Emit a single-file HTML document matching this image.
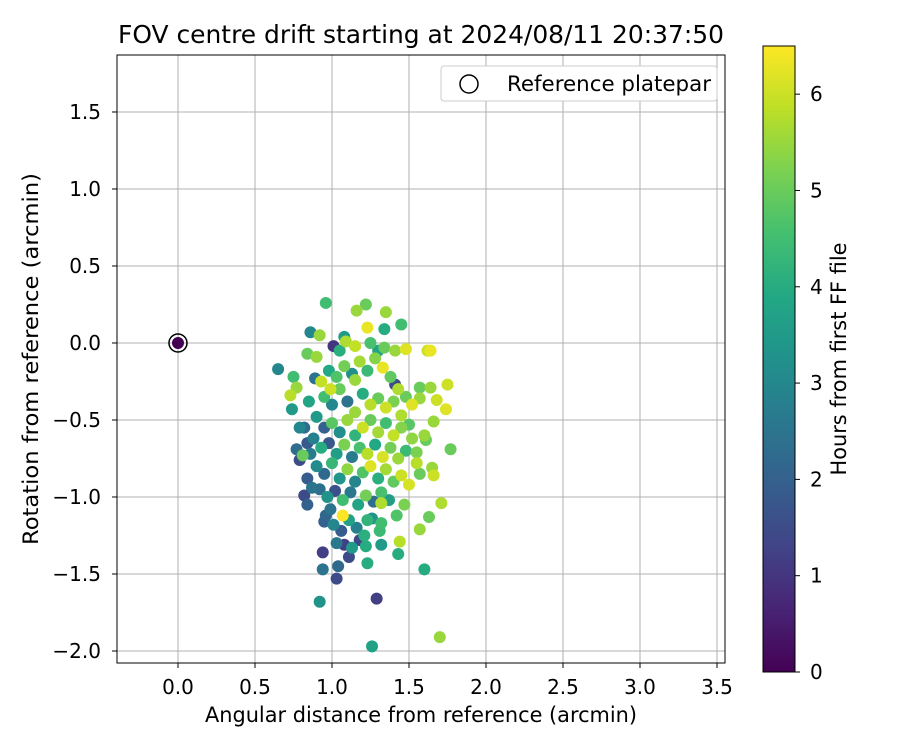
<!DOCTYPE html>
<html><head><meta charset="utf-8"><style>
body{margin:0;background:#fff;font-family:"Liberation Sans","DejaVu Sans",sans-serif;}
svg text{font-family:"DejaVu Sans","Liberation Sans",sans-serif;}
</style></head><body>
<svg id="chart" width="900" height="750" xmlns="http://www.w3.org/2000/svg">
<defs>
<linearGradient id="vir" x1="0" y1="1" x2="0" y2="0">
<stop offset="0" stop-color="#440154"/><stop offset="0.1" stop-color="#482475"/><stop offset="0.2" stop-color="#414487"/><stop offset="0.3" stop-color="#355f8d"/><stop offset="0.4" stop-color="#2a788e"/><stop offset="0.5" stop-color="#21918c"/><stop offset="0.6" stop-color="#22a884"/><stop offset="0.7" stop-color="#44bf70"/><stop offset="0.8" stop-color="#7ad151"/><stop offset="0.9" stop-color="#bddf26"/><stop offset="1" stop-color="#fde725"/>
</linearGradient>
<clipPath id="clip"><rect x="117" y="55" width="608" height="608"/></clipPath>
</defs>
<text x="421" y="43" font-size="25" text-anchor="middle" textLength="606" lengthAdjust="spacingAndGlyphs">FOV centre drift starting at 2024/08/11 20:37:50</text>
<g id="grid"></g>
<g id="points" clip-path="url(#clip)"></g>
<rect x="117" y="55" width="608" height="608" fill="none" stroke="#000" stroke-width="1"/>
<g id="ticks"></g>
<text x="421" y="722" font-size="21" text-anchor="middle" textLength="432" lengthAdjust="spacingAndGlyphs">Angular distance from reference (arcmin)</text>
<text transform="translate(38,359) rotate(-90)" font-size="21" text-anchor="middle" textLength="372" lengthAdjust="spacingAndGlyphs">Rotation from reference (arcmin)</text>
<g>
<rect x="441" y="66" width="276" height="35" rx="3" fill="#fff" stroke="#ccc"/>
<circle cx="469" cy="84" r="9" fill="none" stroke="#000" stroke-width="1.5"/>
<text x="507" y="91" font-size="21" textLength="204" lengthAdjust="spacingAndGlyphs">Reference platepar</text>
</g>
<rect x="763" y="46" width="32" height="626" fill="url(#vir)" stroke="#000"/>
<g id="cbticks"></g>
<text transform="translate(846,359) rotate(-90)" font-size="21" text-anchor="middle" textLength="233" lengthAdjust="spacingAndGlyphs">Hours from first FF file</text>
</svg>
<script>
const xTicks=[0,0.5,1,1.5,2,2.5,3,3.5];
const yTicks=[1.5,1,0.5,0,-0.5,-1,-1.5,-2];
const cTicks=[0,1,2,3,4,5,6];
const refPoint=[0,0,0];
const xs=[0.65,0.96,1.22,1.16,1.35,1.45,1.23,0.86,0.92,1.08,1.34,1.01,1.09,0.84,0.90,1.48,1.41,1.34,1.62,1.64,0.75,0.77,0.73,0.74,0.79,0.77,0.89,0.99,1.15,1.41,1.57,1.64,1.68,1.75,1.74,1.57,1.66,1.60,1.61,1.77,1.55,1.65,1.66,1.57,1.63,1.71,1.57,1.60,1.44,1.43,1.32,1.32,1.32,1.23,1.22,1.23,1.29,1.26,1.70,0.92,0.94,0.94,1.03,1.04,1.11,1.08,0.84,0.82,0.87,0.95,0.99,0.79,0.84,0.81,
0.95,1.00,1.05,1.10,1.15,1.20,1.25,1.30,1.35,1.40,1.45,0.90,0.95,1.00,1.05,1.10,1.15,1.20,1.25,1.30,1.35,1.40,1.45,1.50,0.88,0.93,0.98,1.03,1.08,1.13,1.18,1.23,1.28,1.33,1.38,1.43,1.48,0.90,0.95,1.00,1.05,1.10,1.15,1.20,1.25,1.30,1.35,1.40,1.45,0.92,0.97,1.02,1.07,1.12,1.17,1.22,1.27,1.32,1.37,0.96,1.01,1.06,1.11,1.16,1.21,1.26,1.31,1.03,1.13,1.18,0.93,0.98,1.03,1.08,1.13,1.18,1.23,1.28,1.33,1.38,1.43,1.48,1.05,1.15,1.25,1.30,0.85,0.82,0.86,0.84,1.52,1.55,1.50,1.47,1.42,1.52,1.07];
const ys=[-0.17,0.26,0.25,0.21,0.20,0.12,0.10,0.07,0.05,0.04,0.09,-0.02,0.01,-0.07,-0.09,-0.04,-0.05,-0.03,-0.05,-0.05,-0.22,-0.29,-0.34,-0.43,-0.55,-0.69,-0.23,-0.30,-0.24,-0.27,-0.29,-0.29,-0.37,-0.27,-0.43,-0.36,-0.51,-0.60,-0.63,-0.69,-0.71,-0.81,-0.86,-0.85,-1.13,-1.04,-1.21,-1.47,-1.29,-1.37,-1.31,-1.17,-1.04,-1.15,-1.32,-1.43,-1.66,-1.97,-1.91,-1.68,-1.47,-1.36,-1.53,-1.45,-1.39,-1.31,-1.05,-0.99,-0.94,-1.16,-1.08,-0.76,-0.65,-0.73,
-0.35,-0.40,-0.30,-0.38,-0.45,-0.33,-0.40,-0.36,-0.42,-0.38,-0.47,-0.48,-0.55,-0.52,-0.58,-0.50,-0.60,-0.55,-0.50,-0.58,-0.52,-0.60,-0.55,-0.53,-0.62,-0.68,-0.65,-0.72,-0.66,-0.74,-0.68,-0.72,-0.66,-0.74,-0.68,-0.75,-0.70,-0.80,-0.85,-0.78,-0.88,-0.82,-0.90,-0.84,-0.80,-0.88,-0.82,-0.90,-0.86,-0.95,-1.00,-0.96,-1.02,-0.97,-1.05,-0.99,-1.03,-0.97,-1.02,-1.12,-1.18,-1.22,-1.15,-1.20,-1.25,-1.14,-1.22,-1.30,-1.33,-1.28,-0.25,-0.18,-0.22,-0.15,-0.20,-0.12,-0.18,-0.10,-0.16,-0.22,-0.30,-0.35,-0.05,-0.02,0.00,-0.05,-0.38,-0.55,-0.72,-0.88,-0.62,-0.78,-0.92,-1.05,-1.12,-0.40,-1.12];
const hours=[3,4.5,5,5.5,5.5,4.5,6.3,3,5.5,3.5,4,1,5.7,5,5.5,6.2,5.5,5,6,6.3,4.5,5.5,5.8,3.5,3,2.3,2.5,6,5.5,1.5,5,5.5,6,6,6.2,5.5,5.5,5.5,5,5,5.2,5.5,6,5,5,5.7,5.5,4,5.8,4,3.5,4.5,5.7,4.2,4,4,1.2,3.7,5.5,3.3,2.5,1.2,1.5,2.2,1.5,1.2,2,1.5,2.5,2,2.5,1.5,1.8,5,
4.5,3,5,2.5,5.5,4,5.8,5,6,5.2,5.7,3.5,2,4.8,3.2,5.5,4.2,6,5,5.6,4.5,5.9,5.3,4.8,2.8,4,1.8,3.6,5.2,2.7,4.6,5.8,3.9,6.1,5.1,5.5,4.4,3.1,2.2,4.3,3.4,5.4,2.9,4.7,6.2,4.1,5.6,4.9,6,2.4,3.3,1.6,4.5,2.6,3.8,5.1,2.3,4.6,3.6,2.1,3,1.9,3.7,2.8,4.1,3.3,4.4,2.6,3.5,1.4,5.9,3.9,4.7,5.1,3.2,5.6,4.4,5.3,6.3,4.9,5.7,5,4.1,5.9,4.6,3.8,3.8,2.3,2.7,1.9,5.4,5.8,6.1,5.2,4.7,6.2,6.5];

const NS='http://www.w3.org/2000/svg';
const X0=-0.396,X1=3.552,Y0=-2.078,Y1=1.870,L=117,T=55,W=608,H=608;
function sx(v){return L+(v-X0)/(X1-X0)*W;}
function sy(v){return T+(Y1-v)/(Y1-Y0)*H;}
const VMAX=6.5;
function cy(v){return 672-v/VMAX*626;}
const vir=[[68,1,84],[72,36,117],[65,68,135],[53,95,141],[42,120,142],[33,145,140],[34,168,132],[68,191,112],[122,209,81],[189,223,38],[253,231,37]];
function color(h){let t=Math.max(0,Math.min(1,h/VMAX))*10;let i=Math.min(9,Math.floor(t));let f=t-i;const a=vir[i],b=vir[i+1];return 'rgb('+a.map((c,k)=>Math.round(c+(b[k]-c)*f)).join(',')+')';}
function mk(tag,attrs,parent){const e=document.createElementNS(NS,tag);for(const k in attrs)e.setAttribute(k,attrs[k]);parent.appendChild(e);return e;}
const grid=document.getElementById('grid'),ticks=document.getElementById('ticks');
xTicks.forEach(v=>{const x=sx(v);
 const g=mk('line',{x1:x,x2:x,y1:T,y2:T+H,stroke:'#b0b0b0','stroke-width':1},grid);
 
 
 mk('line',{x1:x,x2:x,y1:T+H,y2:T+H+5,stroke:'#000'},ticks);
 const t=mk('text',{x:x,y:T+H+31,'font-size':20,'text-anchor':'middle'},ticks);t.textContent=v.toFixed(1);
 
 });
yTicks.forEach(v=>{const y=sy(v);
 const g=mk('line',{x1:L,x2:L+W,y1:y,y2:y,stroke:'#b0b0b0','stroke-width':1},grid);
 
 
 mk('line',{x1:L-5,x2:L,y1:y,y2:y,stroke:'#000'},ticks);
 const t=mk('text',{x:L-16,y:y+7,'font-size':20,'text-anchor':'end'},ticks);t.textContent=(v<0?'\u2212':'')+Math.abs(v).toFixed(1);
 
 });
const cb=document.getElementById('cbticks');
cTicks.forEach(v=>{const y=cy(v);mk('line',{x1:795,x2:800,y1:y,y2:y,stroke:'#000'},cb);
 const t=mk('text',{x:810,y:y+7,'font-size':20},cb);t.textContent=v;
 
 });
const pts=document.getElementById('points');
const idx=hours.map((h,i)=>i).sort((a,b)=>hours[a]-hours[b]);
idx.forEach(i=>{const c=mk('circle',{cx:sx(xs[i]),cy:sy(ys[i]),r:6,fill:color(hours[i])},pts);
 
 });
const ref=mk('circle',{cx:sx(refPoint[0]),cy:sy(refPoint[1]),r:6,fill:color(refPoint[2])},pts);


const ring=mk('circle',{cx:sx(refPoint[0]),cy:sy(refPoint[1]),r:9,fill:'none',stroke:'#000','stroke-width':1.5},pts);


</script>
</body></html>
